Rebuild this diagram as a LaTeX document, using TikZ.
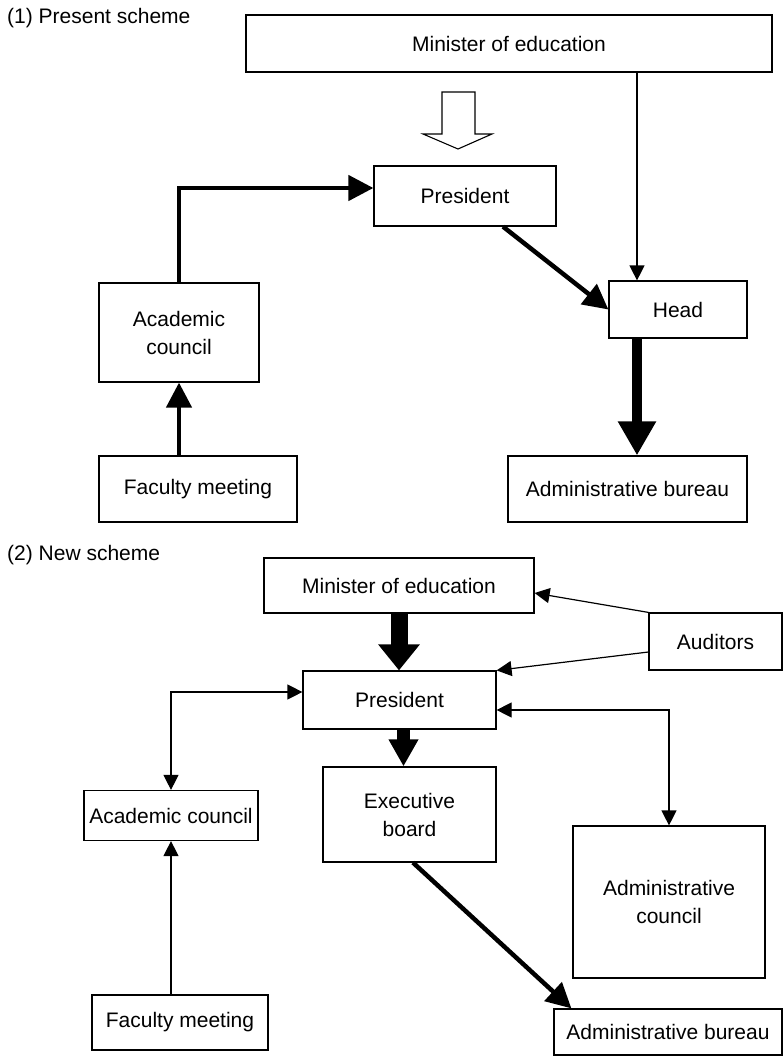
\documentclass[tikz,border=0pt]{standalone}
\usepackage{fontspec}
\setmainfont{Liberation Sans}
\usetikzlibrary{arrows.meta,calc}
\begin{document}
\begin{tikzpicture}[x=1pt,y=-1pt,
  box/.style={draw,line width=1.2pt,inner sep=0pt,align=center,font=\fontsize{21}{28}\selectfont},
  lbl/.style={inner sep=0pt,anchor=west,font=\fontsize{21}{25}\selectfont},
  thinarrow/.style={line width=1.2pt,-{Triangle[width=15pt,length=15pt]}},
  thindouble/.style={line width=1.2pt,{Triangle[width=15pt,length=15pt]}-{Triangle[width=15pt,length=15pt]}},
  thickarrow/.style={line width=4.5pt,-{Triangle[width=25pt,length=25pt]}},
  hollow/.style={line width=1.1pt,line join=miter}
]
\useasboundingbox (0,0) rectangle (783,1060);

% ---------- (1) Present scheme ----------
\node[lbl] (lab1) at (7,18) {(1) Present scheme};
\node[box,minimum width=526pt,minimum height=57pt] (min1) at (509,43.5) {Minister of education};
\node[box,minimum width=182pt,minimum height=60pt] (pres1) at (465,196) {President};
\node[box,minimum width=160pt,minimum height=99pt] (acad1) at (179,332.5) {Academic\\council};
\node[box,minimum width=198pt,minimum height=66pt] (fac1) at (198,489) {Faculty meeting};
\node[box,minimum width=138pt,minimum height=57pt] (head1) at (678,309.5) {Head};
\node[box,minimum width=239pt,minimum height=66pt] (adm1) at (627.5,489) {Administrative bureau};

% hollow arrow
\draw[hollow] (442,92) -- (475,92) -- (475,134) -- (492,134) -- (458,149) -- (423,134) -- (442,134) -- cycle;

\draw[thickarrow] (acad1.north) |- ([yshift=8pt]pres1.west);
\draw[thickarrow] (acad1.south |- fac1.north) -- (acad1.south);
\draw[thickarrow] ([xshift=38pt]pres1.south) -- (head1.west);
\coordinate (h1t) at ([xshift=-41pt]head1.north);
\draw[thinarrow] (h1t |- min1.south) -- (h1t);
\draw[line width=10pt,-{Triangle[width=36pt,length=34pt]}] (h1t |- head1.south) -- (h1t |- adm1.north);

% ---------- (2) New scheme ----------
\node[lbl] (lab2) at (7,555) {(2) New scheme};
\node[box,minimum width=270pt,minimum height=55pt] (min2) at (399,585.5) {Minister of education};
\node[box,minimum width=133pt,minimum height=57pt] (aud2) at (715.5,641.5) {Auditors};
\node[box,minimum width=193pt,minimum height=58pt] (pres2) at (399.5,700) {President};
\node[box,minimum width=173pt,minimum height=95pt] (exec2) at (409.5,814.5) {Executive\\board};
\node[box,minimum width=174pt,minimum height=50pt] (acad2) at (171,815.5) {Academic council};
\node[box,minimum width=192pt,minimum height=152pt] (admc2) at (669,902) {Administrative\\council};
\node[box,minimum width=176pt,minimum height=55pt] (fac2) at (180,1022.5) {Faculty meeting};
\node[box,minimum width=228pt,minimum height=46pt] (admb2) at (668,1032) {Administrative bureau};

\draw[line width=17pt,-{Triangle[width=40pt,length=26pt]}] (min2.south) -- (min2.south |- pres2.north);
\draw[thinarrow] (aud2.north west) -- ([yshift=-7.5pt]min2.east);
\draw[thinarrow] ([yshift=-10.5pt]aud2.west) -- (pres2.north east);
\draw[thindouble] ([yshift=8pt]pres2.west) -| (acad2.north);
\draw[thindouble] ([yshift=-10pt]pres2.east) -| (admc2.north);
\draw[thinarrow] (acad2.south |- fac2.north) -- (acad2.south);
\coordinate (p2b) at ([xshift=4pt]pres2.south);
\draw[line width=13pt,-{Triangle[width=28pt,length=27pt]}] (p2b) -- (p2b |- exec2.north);
\draw[thickarrow] ([xshift=3.5pt]exec2.south) -- ([xshift=18pt]admb2.north west);
\end{tikzpicture}
\end{document}
